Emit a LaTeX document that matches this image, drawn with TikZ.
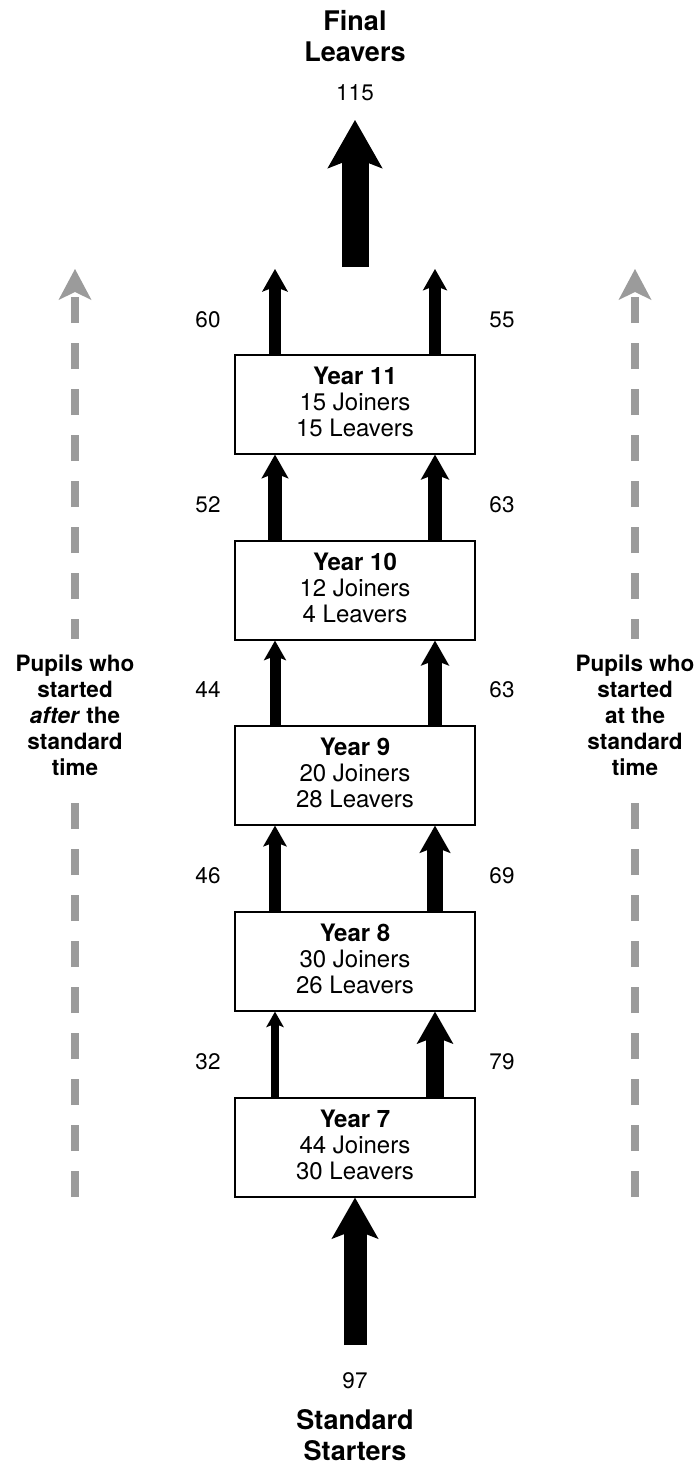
\documentclass[tikz,border=0pt]{standalone}
\usepackage{fontspec}
\setmainfont{TeX Gyre Heros}
\usetikzlibrary{arrows.meta}
\definecolor{dashgray}{HTML}{9B9B9B}

\begin{document}
\begin{tikzpicture}[x=1pt,y=-1pt,
  year/.style={draw,line width=1.3pt,minimum width=240pt,minimum height=99pt,
    align=center,inner sep=0pt,text depth=6pt,font=\fontsize{24}{26}\selectfont},
  count/.style={font=\fontsize{22.5}{25}\selectfont},
  title/.style={align=center,inner sep=0pt,font=\fontsize{27}{31}\selectfont\bfseries},
  side/.style={align=center,fill=white,inner xsep=2pt,inner ysep=16pt,
    font=\fontsize{22.5}{26}\selectfont\bfseries},
  flow/.style={line width=#1pt,
    /utils/exec={\pgfmathsetlengthmacro\headlen{1.8*#1pt}%
      \pgfmathsetlengthmacro\headwid{2.05*#1pt}%
      \pgfmathsetlengthmacro\headins{0.4*#1pt}},
    -{Stealth[length=\headlen,width=\headwid,inset=\headins,line width=0pt]}},
  dashflow/.style={dashgray,line width=8pt,dash pattern=on 26pt off 20pt,
    -{Stealth[length=31pt,width=33pt,inset=8pt,line width=0pt]}}]
\useasboundingbox (0,0) rectangle (699,1467);

% year boxes
\node[year] (y11) at (355,404.5) {\textbf{Year 11}\\15 Joiners\\15 Leavers};
\node[year] (y10) at (355,590.5) {\textbf{Year 10}\\12 Joiners\\4 Leavers};
\node[year] (y9) at (355,775.5) {\textbf{Year 9}\\20 Joiners\\28 Leavers};
\node[year] (y8) at (355,961.5) {\textbf{Year 8}\\30 Joiners\\26 Leavers};
\node[year] (y7) at (355,1147.5) {\textbf{Year 7}\\44 Joiners\\30 Leavers};

% in and out
\node[title] (final) at (355,36) {Final\\Leavers};
\node[count] (n115) at (355,93) {115};
\node[count] (n97) at (355,1381) {97};
\node[title] (starters) at (355,1435) {Standard\\Starters};
\coordinate (finaltail) at (355,267);
\coordinate (finaltip) at (355,120);
\coordinate (starttail) at (355,1345);
\coordinate (exitL) at (275,269);
\coordinate (exitR) at (435,269);
\draw[flow=27] (finaltail) -- (finaltip);
\draw[flow=23] (starttail) -- (y7.south);

% flows between years
\draw[flow=8.7] ([xshift=-80pt]y7.north) -- ([xshift=-80pt]y8.south);
\draw[flow=18] ([xshift=80pt]y7.north) -- ([xshift=80pt]y8.south);
\draw[flow=11.7] ([xshift=-80pt]y8.north) -- ([xshift=-80pt]y9.south);
\draw[flow=15.3] ([xshift=80pt]y8.north) -- ([xshift=80pt]y9.south);
\draw[flow=11] ([xshift=-80pt]y9.north) -- ([xshift=-80pt]y10.south);
\draw[flow=14] ([xshift=80pt]y9.north) -- ([xshift=80pt]y10.south);
\draw[flow=13.3] ([xshift=-80pt]y10.north) -- ([xshift=-80pt]y11.south);
\draw[flow=14] ([xshift=80pt]y10.north) -- ([xshift=80pt]y11.south);
\draw[flow=12.7] ([xshift=-80pt]y11.north) -- (exitL);
\draw[flow=12] ([xshift=80pt]y11.north) -- (exitR);

\node[count] (l32) at (208,1062) {32};
\node[count] (r79) at (502,1062) {79};
\node[count] (l46) at (208,876) {46};
\node[count] (r69) at (502,876) {69};
\node[count] (l44) at (208,690) {44};
\node[count] (r63a) at (502,690) {63};
\node[count] (l52) at (208,505) {52};
\node[count] (r63b) at (502,505) {63};
\node[count] (l60) at (208,320) {60};
\node[count] (r55) at (502,320) {55};

% cohorts
\coordinate (lbot) at (75,1197);
\coordinate (ltop) at (75,269);
\coordinate (rbot) at (635,1197);
\coordinate (rtop) at (635,269);
\draw[dashflow] (lbot) -- (ltop);
\draw[dashflow] (rbot) -- (rtop);
\node[side] (after) at (75,715) {Pupils who\\started\\\textit{after} the\\standard\\time};
\node[side] (standard) at (635,715) {Pupils who\\started\\at the\\standard\\time};
\end{tikzpicture}
\end{document}
